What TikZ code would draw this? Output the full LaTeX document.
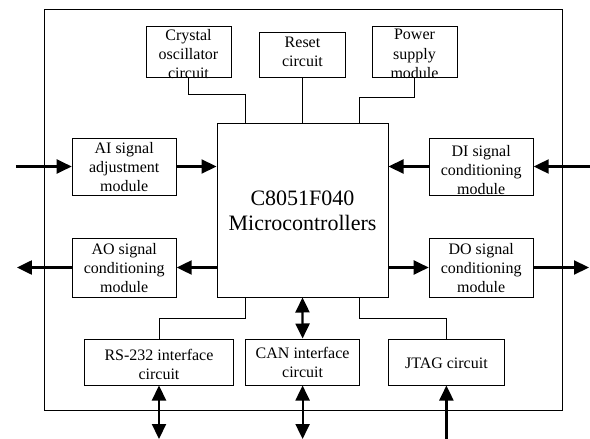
\documentclass[tikz,border=0pt]{standalone}
\usepackage{fontspec}
\setmainfont{Liberation Serif}
\usetikzlibrary{arrows.meta}
\begin{document}
\begin{tikzpicture}[x=1pt,y=-1pt,
  box/.style={draw, line width=1pt, inner sep=0pt},
  txt/.style={inner sep=0pt, align=center, font=\fontsize{16}{19.3}\selectfont},
  thin/.style={line width=1pt},
  bus/.style={line width=2.2pt, -{Triangle[length=15pt,width=14pt]}},
  dbus/.style={line width=2.2pt, {Triangle[length=15pt,width=14pt]}-{Triangle[length=15pt,width=14pt]}}]
\useasboundingbox (0,0) rectangle (590,439);
% frame
\draw[line width=1pt] (44,9) rectangle (562,410.7);
% boxes
\node[box, minimum width=85pt, minimum height=51pt] (crys) at (188.5,51.5) {};
\node[txt] (crysT) at (188.5,54) {Crystal\\oscillator\\circuit};
\node[box, minimum width=86pt, minimum height=45pt] (reset) at (302.5,54.5) {};
\node[txt] (resetT) at (302.5,52) {Reset\\circuit};
\node[box, minimum width=85pt, minimum height=51pt] (pow) at (414.5,51.5) {};
\node[txt] (powT) at (414.5,54) {Power\\supply\\module};
\node[box, minimum width=171pt, minimum height=174pt] (mcu) at (302.5,210) {};
\node[txt, font=\fontsize{22}{25}\selectfont] (mcuT) at (302.5,211) {C8051F040\\Microcontrollers};
\node[box, minimum width=104pt, minimum height=57pt] (ai) at (124.2,166.5) {};
\node[txt] (aiT) at (124.2,167) {AI signal\\adjustment\\module};
\node[box, minimum width=104pt, minimum height=57pt] (di) at (481.2,166.5) {};
\node[txt] (diT) at (481.2,170) {DI signal\\conditioning\\module};
\node[box, minimum width=104pt, minimum height=59pt] (ao) at (124.2,267.5) {};
\node[txt] (aoT) at (124.2,268) {AO signal\\conditioning\\module};
\node[box, minimum width=104pt, minimum height=59pt] (do) at (481.2,267.5) {};
\node[txt] (doT) at (481.2,268) {DO signal\\conditioning\\module};
\node[box, minimum width=148.6pt, minimum height=46pt] (rs) at (159,362) {};
\node[txt] (rsT) at (159,364.5) {RS-232 interface\\circuit};
\node[box, minimum width=113.6pt, minimum height=46pt] (can) at (302.6,362) {};
\node[txt] (canT) at (302.6,362.5) {CAN interface\\circuit};
\node[box, minimum width=116pt, minimum height=46pt] (jtag) at (446.4,362) {};
\node[txt] (jtagT) at (446.4,363) {JTAG circuit};
% free ends
\coordinate (aiIn) at (15.8,166.5);
\coordinate (diIn) at (590,166.5);
\coordinate (aoOut) at (16.9,267.5);
\coordinate (doOut) at (589,267.5);
\coordinate (rsB) at (159,439);
\coordinate (canB) at (302.6,439);
\coordinate (jtagB) at (446.4,439);
% thin connectors
\draw[thin] (crys.south) -- ++(0,17) -| ([xshift=-57pt]mcu.north);
\draw[thin] (reset.south) -- (mcu.north);
\draw[thin] (pow.south) -- ++(0,20) -| ([xshift=57pt]mcu.north);
\draw[thin] ([xshift=-57pt]mcu.south) -- ++(0,21) -| (rs.north);
\draw[thin] ([xshift=57pt]mcu.south) -- ++(0,21) -| (jtag.north);
% bus arrows
\draw[bus] (aiIn) -- (ai.west);
\draw[bus] (ai.east) -- (ai.east -| mcu.west);
\draw[bus] (diIn) -- (di.east);
\draw[bus] (di.west) -- (di.west -| mcu.east);
\draw[bus] (ao.west) -- (aoOut);
\draw[bus] (ao.east -| mcu.west) -- (ao.east);
\draw[bus] (do.east) -- (doOut);
\draw[bus] (do.west -| mcu.east) -- (do.west);
\draw[dbus] (mcu.south) -- (can.north);
\draw[dbus] (rs.south) -- (rsB);
\draw[dbus] (can.south) -- (canB);
\draw[bus] (jtagB) -- (jtag.south);
\end{tikzpicture}
\end{document}
